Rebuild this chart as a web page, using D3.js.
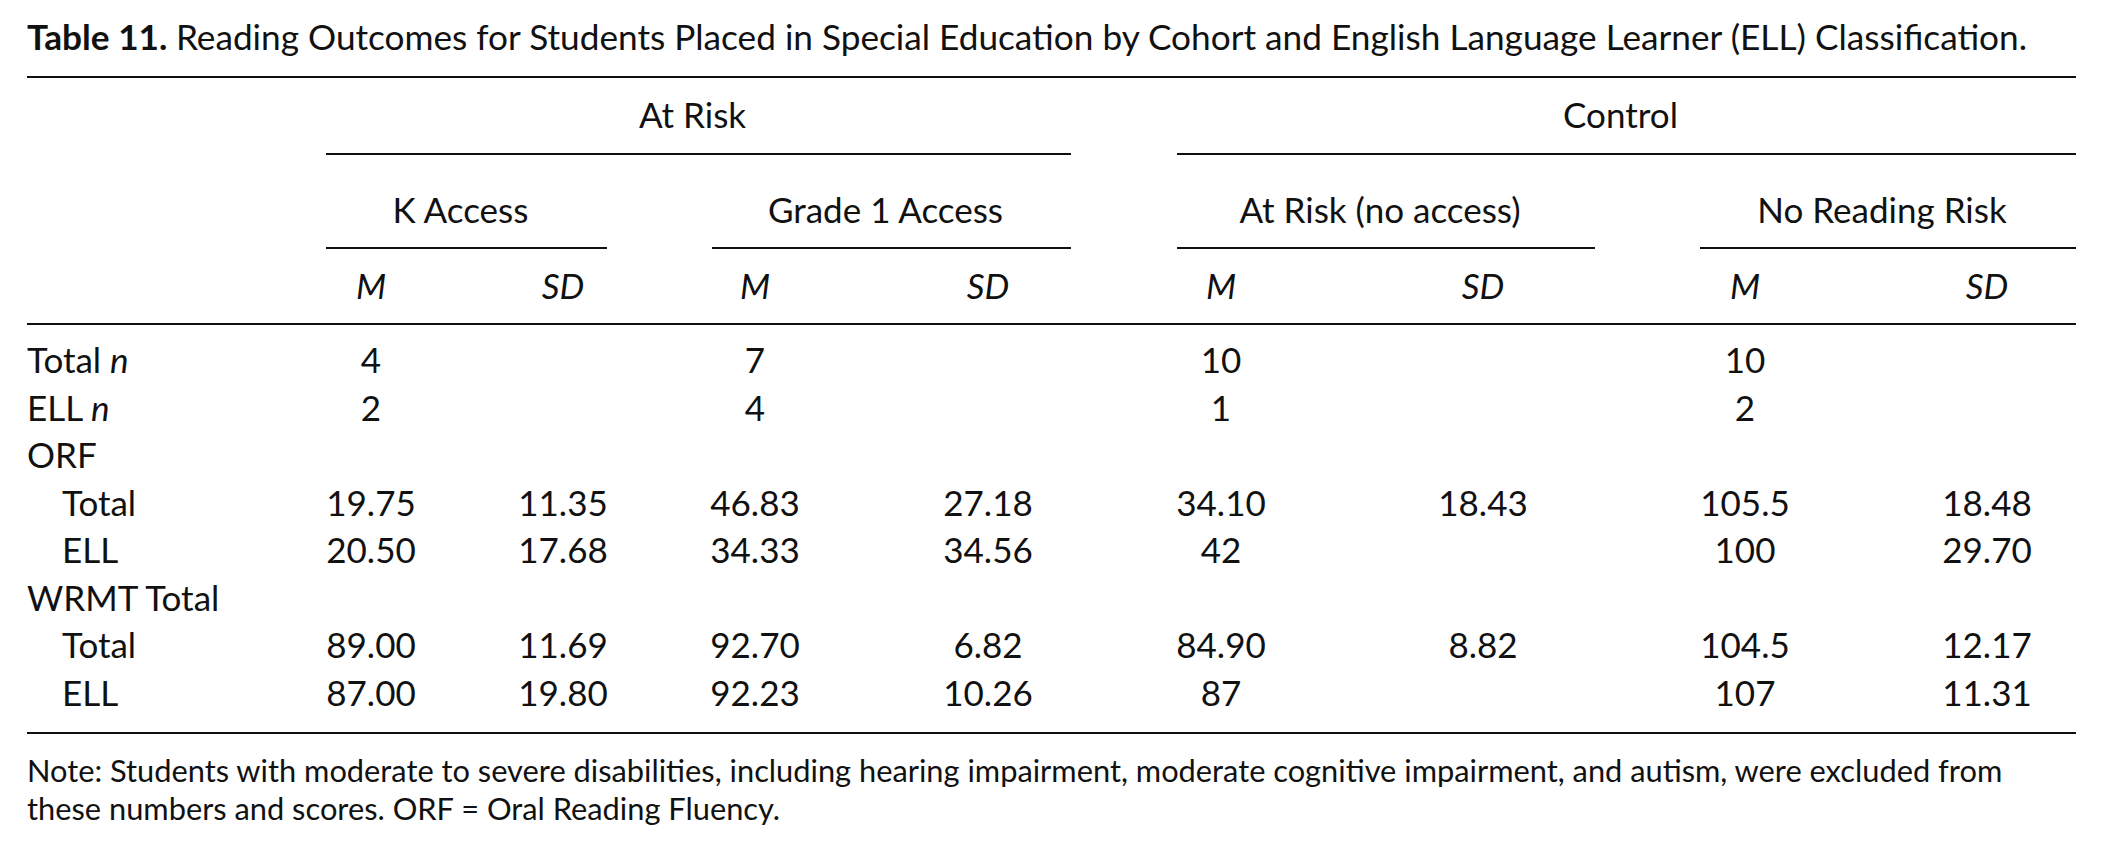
<!DOCTYPE html>
<html>
<head>
<meta charset="utf-8">
<script src="https://cdn.jsdelivr.net/npm/d3@7"></script>
<style>
  html, body { margin: 0; padding: 0; background: #fff; }
  svg { display: block; }
  text { font-family: Lato, "Open Sans", sans-serif; fill: #111; }
</style>
</head>
<body>
<svg id="chart" width="2102" height="856"></svg>
<script>
// ---------- data ----------
const titleLabel = "Table 11.";
const titleText = "Reading Outcomes for Students Placed in Special Education by Cohort and English Language Learner (ELL) Classification.";
const groups = ["At Risk", "Control"];
const subgroups = ["K Access", "Grade 1 Access", "At Risk (no access)", "No Reading Risk"];
const stats = ["M", "SD"];
const rowLabels = ["Total n", "ELL n", "ORF", "Total", "ELL", "WRMT Total", "Total", "ELL"];
const rowIndent = [0, 0, 0, 1, 1, 0, 1, 1];
const totalN = ["4", "7", "10", "10"];
const ellN = ["2", "4", "1", "2"];
const orfTotalM = ["19.75", "46.83", "34.10", "105.5"];
const orfTotalSD = ["11.35", "27.18", "18.43", "18.48"];
const orfEllM = ["20.50", "34.33", "42", "100"];
const orfEllSD = ["17.68", "34.56", "", "29.70"];
const wrmtTotalM = ["89.00", "92.70", "84.90", "104.5"];
const wrmtTotalSD = ["11.69", "6.82", "8.82", "12.17"];
const wrmtEllM = ["87.00", "92.23", "87", "107"];
const wrmtEllSD = ["19.80", "10.26", "", "11.31"];
const noteLines = [
  "Note: Students with moderate to severe disabilities, including hearing impairment, moderate cognitive impairment, and autism, were excluded from",
  "these numbers and scores. ORF = Oral Reading Fluency."
];

// rows of cells: [M, SD] per subgroup
const rowCells = [
  totalN.map(v => [v, ""]),
  ellN.map(v => [v, ""]),
  null,
  orfTotalM.map((v, i) => [v, orfTotalSD[i]]),
  orfEllM.map((v, i) => [v, orfEllSD[i]]),
  null,
  wrmtTotalM.map((v, i) => [v, wrmtTotalSD[i]]),
  wrmtEllM.map((v, i) => [v, wrmtEllSD[i]])
];

// ---------- layout ----------
const FS = 35;
const left = 27, right = 2076;
const svg = d3.select("#chart");

const subSpan = d3.scaleOrdinal().domain(subgroups).range([[326, 607], [712, 1071], [1177, 1595], [1700, 2076]]);
const groupSpan = d3.scaleOrdinal().domain(groups).range([[326, 1071], [1177, 2076]]);
const colX = d3.scaleOrdinal()
  .domain(subgroups.flatMap(s => stats.map(t => s + "|" + t)))
  .range([371, 563, 755, 988, 1221, 1483, 1745, 1987]);
const rowY = d3.scalePoint().domain(d3.range(rowLabels.length)).range([373, 705.5]);

const line = (x1, x2, y, w) => svg.append("line")
  .attr("x1", x1).attr("x2", x2).attr("y1", y).attr("y2", y)
  .attr("stroke", "#111").attr("stroke-width", w);

// title
const t = svg.append("text").attr("x", left).attr("y", 50).attr("font-size", FS)
  .attr("textLength", 2000).attr("lengthAdjust", "spacingAndGlyphs");
t.append("tspan").attr("font-weight", "bold").text(titleLabel + " ");
t.append("tspan").text(titleText);

// rules
line(left, right, 77, 2.2);
line(left, right, 324, 2.2);
line(left, right, 733, 2.2);

// group headers
groups.forEach(g => {
  const [a, b] = groupSpan(g);
  line(a, b, 154, 2);
  svg.append("text").attr("x", (a + b) / 2 - 6).attr("y", 128).attr("font-size", FS)
    .attr("text-anchor", "middle").text(g);
});
subgroups.forEach(s => {
  const [a, b] = subSpan(s);
  line(a, b, 248, 2);
  svg.append("text").attr("x", (a + b) / 2 - 6).attr("y", 223).attr("font-size", FS)
    .attr("text-anchor", "middle").text(s);
  stats.forEach(st => {
    svg.append("text").attr("x", colX(s + "|" + st)).attr("y", 299).attr("font-size", FS)
      .attr("text-anchor", "middle").attr("font-style", "italic").text(st);
  });
});

// row labels
rowLabels.forEach((lab, i) => {
  const tx = svg.append("text").attr("x", rowIndent[i] ? 62 : left).attr("y", rowY(i)).attr("font-size", FS);
  if (lab.endsWith(" n")) {
    tx.append("tspan").text(lab.slice(0, -1));
    tx.append("tspan").attr("font-style", "italic").text("n");
  } else {
    tx.text(lab);
  }
});

// cells
rowCells.forEach((cells, i) => {
  if (!cells) return;
  cells.forEach((pair, j) => {
    pair.forEach((v, k) => {
      if (!v) return;
      svg.append("text").attr("x", colX(subgroups[j] + "|" + stats[k])).attr("y", rowY(i))
        .attr("font-size", FS).attr("text-anchor", "middle").text(v);
    });
  });
});

// note
noteLines.forEach((l, i) => {
  svg.append("text").attr("x", left).attr("y", 782 + i * 38).attr("font-size", 30.8).text(l);
});
</script>
</body>
</html>
